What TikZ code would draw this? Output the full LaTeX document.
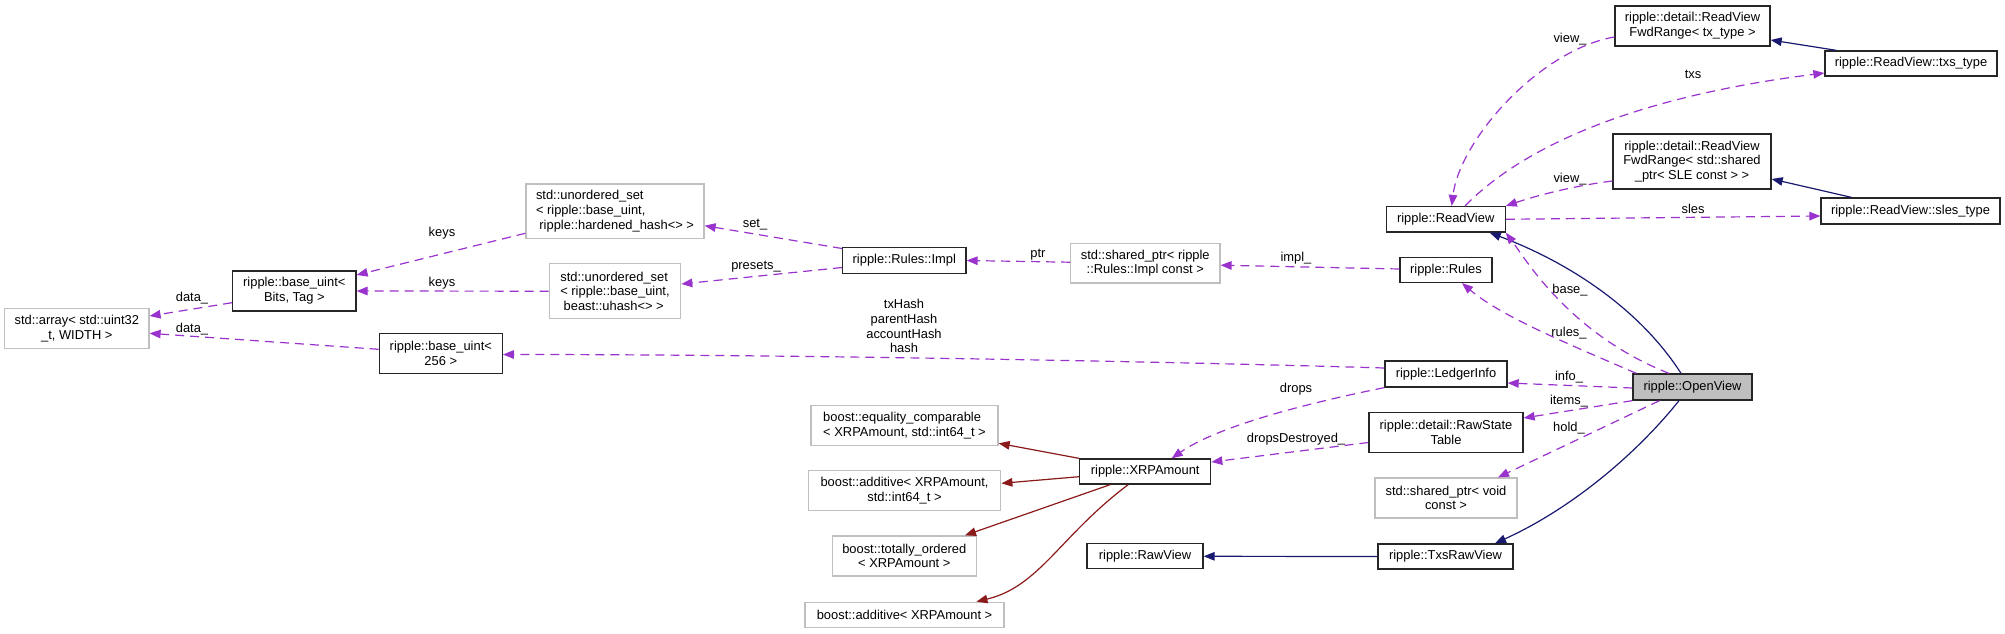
\documentclass[tikz,border=0pt]{standalone}
\usepackage{fontspec}
\setmainfont{Liberation Sans}
\usetikzlibrary{arrows.meta}
\definecolor{useC}{HTML}{9A32CD}
\definecolor{inhC}{HTML}{191970}
\definecolor{redC}{HTML}{8B1A1A}
\definecolor{extC}{HTML}{BFBFBF}
\definecolor{ovC}{HTML}{BFBFBF}
\begin{document}
\begin{tikzpicture}[x=1pt,y=-1pt,
  box/.style={rectangle, inner sep=0pt, font=\fontsize{12.9}{14.7}\selectfont, align=center, line width=1.3pt},
  cls/.style={box, draw=black!85},
  ext/.style={box, draw=extC},
  lab/.style={inner sep=0pt, font=\fontsize{12.9}{14.7}\selectfont, align=center},
  conn/.style={line width=1.2pt},
  usage/.style={conn, draw=useC, dash pattern=on 9pt off 6pt, -{Triangle[length=11pt,width=8.5pt]}},
  inh/.style={conn, draw=inhC, -{Triangle[length=11pt,width=8.5pt]}},
  derv/.style={conn, draw=redC, -{Triangle[length=11pt,width=8.5pt]}}
]
\fill[white] (0,0) rectangle (2005,634);
\useasboundingbox (0,0) rectangle (2005,634);

% nodes
\node[cls, minimum width=155, minimum height=40] (fwdtx) at (1692.5,26) {ripple::detail::ReadView\\FwdRange< tx\_type >};
\node[cls, minimum width=172, minimum height=25] (txs) at (1911,63.5) {ripple::ReadView::txs\_type};
\node[cls, minimum width=158, minimum height=55] (fwdsh) at (1692,161.5) {ripple::detail::ReadView\\FwdRange< std::shared\\\_ptr< SLE const > >};
\node[cls, minimum width=119, minimum height=25.5] (rv) at (1445.7,219.3) {ripple::ReadView};
\node[cls, minimum width=179, minimum height=26] (sles) at (1910.5,211) {ripple::ReadView::sles\_type};
\node[cls, minimum width=92, minimum height=25] (rules) at (1446,270) {ripple::Rules};
\node[cls, minimum width=122, minimum height=26] (li) at (1446,374) {ripple::LedgerInfo};
\node[cls, fill=ovC, minimum width=119, minimum height=26] (ov) at (1692.5,387) {ripple::OpenView};
\node[cls, minimum width=154, minimum height=40.5] (rst) at (1446,432.5) {ripple::detail::RawState\\Table};
\node[ext, minimum width=142, minimum height=40] (sv) at (1446,498) {std::shared\_ptr< void\\const >};
\node[cls, minimum width=135, minimum height=25] (trv) at (1445.5,556.5) {ripple::TxsRawView};
\node[cls, minimum width=116, minimum height=25] (raw) at (1145,556.3) {ripple::RawView};
\node[cls, minimum width=131, minimum height=25] (xrp) at (1145.2,471.5) {ripple::XRPAmount};
\node[ext, align=left, minimum width=187, minimum height=40] (eq) at (904.5,425.7) {boost::equality\_comparable\\< XRPAmount, std::int64\_t >};
\node[ext, minimum width=192.5, minimum height=40] (addi) at (904.5,490.7) {boost::additive< XRPAmount,\\std::int64\_t >};
\node[ext, minimum width=144, minimum height=40] (tot) at (904.3,556) {boost::totally\_ordered\\< XRPAmount >};
\node[ext, minimum width=199, minimum height=25.5] (addx) at (904.5,615) {boost::additive< XRPAmount >};
\node[ext, minimum width=149.3, minimum height=39.7] (simpl) at (1145.3,263.2) {std::shared\_ptr< ripple\\::Rules::Impl const >};
\node[cls, minimum width=123.3, minimum height=25.7] (impl) at (904.3,260.5) {ripple::Rules::Impl};
\node[ext, align=left, minimum width=178, minimum height=54.7] (uh) at (615,211.3) {std::unordered\_set\\< ripple::base\_uint,\\\hspace*{3.4pt}ripple::hardened\_hash<> >};
\node[ext, align=left, minimum width=131.4, minimum height=55] (uu) at (615,291.2) {std::unordered\_set\\< ripple::base\_uint,\\\hspace*{3.4pt}beast::uhash<> >};
\node[cls, minimum width=123.3, minimum height=40] (bt) at (294.3,291) {ripple::base\_uint<\\Bits, Tag >};
\node[ext, minimum width=144.3, minimum height=40.4] (arr) at (76.8,328.5) {std::array< std::uint32\\\_t, WIDTH >};
\node[cls, minimum width=123, minimum height=40.4] (b256) at (440.8,353.5) {ripple::base\_uint<\\256 >};

% inheritance
\draw[inh] ([xshift=-11.5]ov.north) .. controls +(-41,-64) and +(80,30) .. ([xshift=44]rv.south);
\draw[inh] ([xshift=-13.5]ov.south) .. controls +(-44,55) and +(75,-34) .. ([xshift=49.5]trv.north);
\draw[inh] (trv.west) -- (raw.east);
\draw[inh] ([xshift=12]txs.north west) -- ([yshift=-14]fwdtx.east);
\draw[inh] ([xshift=31]sles.north west) -- ([yshift=-17.5]fwdsh.east);

% usage
\draw[usage] ([yshift=-11]fwdtx.west) .. controls +(-75,13) and +(8,-66) .. ([xshift=6]rv.north);
\draw[usage] ([xshift=19.3]rv.north) .. controls +(65,-66) and +(-175,22) .. ([yshift=-9.5]txs.west);
\draw[usage] ([yshift=-19.5]fwdsh.west) .. controls +(-40,5) and +(30,-10) .. (rv.north east);
\draw[usage] (rv.east) -- ([yshift=-5]sles.west);
\draw[usage] ([xshift=-23.5]ov.north) .. controls +(-99,-39) and +(20,27) .. (rv.south east);
\draw[usage] ([xshift=4]ov.north west) .. controls +(-77,-33) and +(38,32) .. ([xshift=16]rules.south);
\draw[usage] ([yshift=-1]ov.west) -- ([yshift=-9]li.east);
\draw[usage] (ov.south west) -- ([yshift=14.5]rst.east);
\draw[usage] ([xshift=-33]ov.south) -- ([xshift=52]sv.north);
\draw[usage] ([yshift=6]li.west) .. controls +(-200,-6) and +(300,0) .. ([yshift=-1]b256.east);
\draw[usage] (li.south west) .. controls +(-60,12) and +(50,-35) .. ([xshift=26.5]xrp.north);
\draw[usage] ([yshift=-10]rst.west) -- ([yshift=9.5]xrp.east);
\draw[usage] ([yshift=1]rules.west) -- ([yshift=-2]simpl.east);
\draw[usage] ([yshift=1]simpl.west) -- (impl.east);
\draw[usage] ([yshift=-1.5]impl.north west) -- ([yshift=-14.4]uh.east);
\draw[usage] ([yshift=-7]impl.west) -- ([yshift=7.2]uu.east);
\draw[usage] ([yshift=-22]uh.west) -- ([yshift=16]bt.east);
\draw[usage] (uu.west) -- (bt.east);
\draw[usage] ([yshift=-11.7]bt.west) -- ([yshift=12.5]arr.east);
\draw[usage] ([yshift=4.2]b256.west) -- ([yshift=-4.8]arr.east);

% derivation (red)
\draw[derv] (xrp.north west) -- ([yshift=-17.6]eq.east);
\draw[derv] ([yshift=-5.2]xrp.west) -- ([yshift=7.4]addi.east);
\draw[derv] ([xshift=-35]xrp.south) -- ([xshift=60.7]tot.north);
\draw[derv] ([xshift=-17]xrp.south) .. controls +(-68,51) and +(63,-15) .. ([xshift=72]addx.north);

% labels
\node[lab] (lview1) at (1570,39) {view\_};
\node[lab] (ltxs) at (1693,74) {txs};
\node[lab] (lview2) at (1570,179) {view\_};
\node[lab] (lsles) at (1693,209) {sles};
\node[lab] (lbase) at (1570,290) {base\_};
\node[lab] (lrules) at (1569,333) {rules\_};
\node[lab] (linfo) at (1569,377) {info\_};
\node[lab] (litems) at (1569,401) {items\_};
\node[lab] (lhold) at (1569,428) {hold\_};
\node[lab] (limpl) at (1296,258) {impl\_};
\node[lab] (lptr) at (1038,255) {ptr};
\node[lab] (ldrops) at (1296,389) {drops};
\node[lab] (ldd) at (1296,439) {dropsDestroyed\_};
\node[lab] (lhash) at (904,326.3) {txHash\\parentHash\\accountHash\\hash};
\node[lab] (lset) at (755,225) {set\_};
\node[lab] (lpre) at (756,267) {presets\_};
\node[lab] (lkeys1) at (442,233) {keys};
\node[lab] (lkeys2) at (442,283) {keys};
\node[lab] (ldata1) at (192,298) {data\_};
\node[lab] (ldata2) at (192,329) {data\_};
\end{tikzpicture}
\end{document}
